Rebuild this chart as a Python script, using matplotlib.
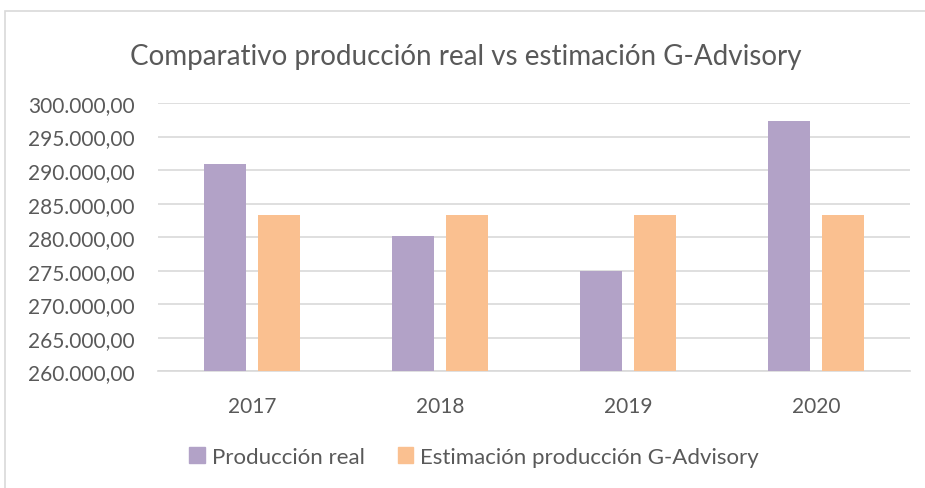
import numpy as np
import matplotlib
matplotlib.use('Agg')
import matplotlib.pyplot as plt
from matplotlib.ticker import FuncFormatter, MultipleLocator
from matplotlib.patches import Rectangle, Patch

plt.rcParams['font.family'] = ['Lato', 'DejaVu Sans']

years = ['2017', '2018', '2019', '2020']
real = [290900, 280100, 275000, 297250]
estimacion = [283300, 283300, 283300, 283300]

c_real = '#b2a2c7'
c_est = '#fac090'
txt = '#595959'

fig = plt.figure(figsize=(9.25, 4.89), dpi=100)
# outer chart border
fig.patches.append(Rectangle((5 / 925, -0.1), 1.0, 1 - 12 / 489 + 0.1,
                             transform=fig.transFigure, fill=False,
                             edgecolor='#d9d9d9', linewidth=1.2))

ax = fig.add_axes([158 / 925, 1 - 372.3 / 489, 752 / 925, 268.3 / 489])
x = np.arange(len(years))
w = 0.223
ax.bar(x - 0.144, real, w, color=c_real, zorder=3)
ax.bar(x + 0.144, estimacion, w, color=c_est, zorder=3)

ax.set_xlim(-0.5, 3.5)
ax.set_ylim(260000, 300000)
ax.yaxis.set_major_locator(MultipleLocator(5000))
ax.yaxis.set_major_formatter(FuncFormatter(
    lambda v, p: f'{v:,.2f}'.replace(',', 'X').replace('.', ',').replace('X', '.')))
ax.grid(axis='y', color='#d9d9d9', linewidth=1.2, zorder=0)
for s in ['top', 'right', 'left']:
    ax.spines[s].set_visible(False)
ax.spines['bottom'].set_color('#d9d9d9')
ax.spines['bottom'].set_linewidth(1.2)
ax.set_xticks(x)
ax.set_xticklabels(years)
ax.tick_params(axis='both', length=0, labelsize=15, labelcolor=txt)
ax.tick_params(axis='y', pad=17)
ax.tick_params(axis='x', pad=18)

fig.text(466 / 925, 1 - 57 / 489, 'Comparativo producción real vs estimación G-Advisory',
         ha='center', va='center', fontsize=20, color=txt, fontweight='normal')

handles = [Patch(color=c_real, label='Producción real'),
           Patch(color=c_est, label='Estimación producción G-Advisory')]
fig.legend(handles=handles, loc='center', bbox_to_anchor=(474 / 925, 1 - 458 / 489),
           ncol=2, frameon=False, fontsize=16, labelcolor=txt,
           handlelength=0.7, handleheight=0.7, handletextpad=0.3, columnspacing=1.5)

fig.savefig('out.png', dpi=100)
